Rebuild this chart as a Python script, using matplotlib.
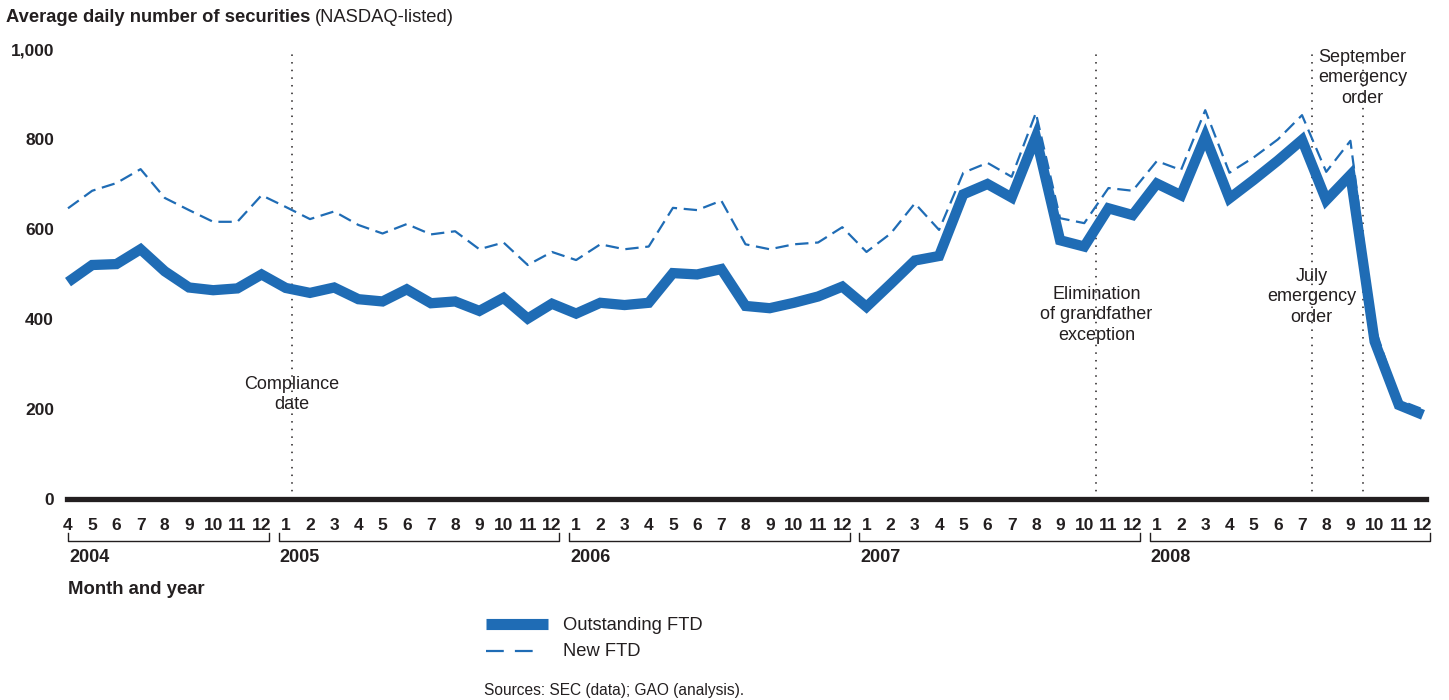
import matplotlib
matplotlib.use("Agg")
import matplotlib.pyplot as plt
from matplotlib.transforms import blended_transform_factory
from matplotlib.lines import Line2D

plt.rcParams["font.family"] = ["Liberation Sans", "DejaVu Sans"]

# months Apr 2004 .. Dec 2008
month_labels = ([str(m) for m in range(4, 13)] + [str(m) for m in range(1, 13)] * 4)
years = ["2004", "2005", "2006", "2007", "2008"]
year_span = [(0, 8), (9, 20), (21, 32), (33, 44), (45, 56)]

outstanding_ftd = [482, 520, 522, 555, 506, 470, 464, 468, 499,
                   469, 458, 470, 444, 439, 466, 435, 439, 418, 447, 401, 434,
                   412, 436, 431, 436, 502, 499, 511, 429, 424, 436, 450, 472,
                   427, 478, 530, 540, 677, 700, 670, 805, 575, 561, 646, 631,
                   701, 675, 805, 668, 709, 752, 798, 664, 720, 350, 209, 187]
new_ftd = [646, 685, 702, 733, 669, 642, 616, 616, 675,
           649, 622, 639, 609, 590, 611, 588, 595, 555, 570, 520, 549,
           531, 566, 555, 561, 647, 642, 663, 566, 555, 566, 570, 604,
           549, 590, 657, 598, 725, 747, 716, 858, 624, 613, 691, 685,
           751, 731, 864, 725, 759, 799, 853, 727, 796, 383, 220, 199]

# events (month index position) and their labels
event_x = [9.26, 42.5, 51.4, 53.5]
event_text = ["Compliance\ndate", "Elimination\nof grandfather\nexception",
              "July\nemergency\norder", "September\nemergency\norder"]
event_text_y = [232, 409, 449, 936]

BLUE = "#1f6cb5"
INK = "#231f20"
W, H = 1449, 700
COND = ["Liberation Sans Narrow", "Liberation Sans"]

fig = plt.figure(figsize=(W / 100, H / 100), dpi=100)
ax = fig.add_axes([68 / W, 1 - 499 / H, (1423 - 68) / W, 450 / H])
x = list(range(len(outstanding_ftd)))

ax.plot(x, new_ftd, color=BLUE, lw=1.6, ls=(0, (6, 3)), clip_on=False, zorder=3)
ax.plot(x, outstanding_ftd, color=BLUE, lw=7.4, solid_joinstyle="miter",
        solid_capstyle="butt", clip_on=False, zorder=4)

for ex, et, ey in zip(event_x, event_text, event_text_y):
    ax.vlines(ex, 0, 1000, color=INK, lw=1.1, ls=(0, (1, 4)), zorder=2)
    ax.text(ex, ey, et, ha="center", va="center", fontsize=13, color=INK,
            linespacing=1.28, zorder=5)

ax.set_xlim(0, 56)
ax.set_ylim(0, 1000)
ax.axhline(0, xmin=-0.001, xmax=1.002, color=INK, lw=3.8, clip_on=False, zorder=6)
for s in ax.spines.values():
    s.set_visible(False)

ax.set_yticks([0, 200, 400, 600, 800, 1000])
ax.set_yticklabels(["0", "200", "400", "600", "800", "1,000"])
ax.set_xticks(x)
ax.set_xticklabels(month_labels)
ax.tick_params(axis="y", length=0, pad=10, labelsize=12.5, labelcolor=INK)
ax.tick_params(axis="x", length=0, pad=14, labelsize=12.5, labelcolor=INK)
for lab in ax.get_xticklabels() + ax.get_yticklabels():
    lab.set_fontweight("bold")
    lab.set_family(COND)

# year brackets
tr = blended_transform_factory(ax.transData, ax.transAxes)
yb, yt = (499 - 541) / 450, (499 - 533) / 450
for yr, (a, b) in zip(years, year_span):
    x0 = a - 0.3 if a > 0 else 0
    x1 = b + 0.3
    ax.plot([x0, x0, x1, x1], [yt, yb, yb, yt], color=INK, lw=1, transform=tr,
            clip_on=False)
    ax.text(x0 + 0.05, (499 - 557) / 450, yr, transform=tr, ha="left", va="center",
            fontsize=13, fontweight="bold", color=INK, family=COND)
ax.text(0, (499 - 590) / 450, "Month and year", transform=tr, ha="left",
        va="center", fontsize=13.3, fontweight="bold", color=INK, family=COND)

# title
t1 = fig.text(6 / W, 1 - 18 / H, "Average daily number of securities", ha="left",
              va="center", fontsize=13.2, fontweight="bold", color=INK)
fig.canvas.draw()
bb = t1.get_window_extent(fig.canvas.get_renderer())
fig.text(bb.x1 / W + 4 / W, 1 - 18 / H, "(NASDAQ-listed)", ha="left", va="center",
         fontsize=13.2, color=INK)

# legend
fig.add_artist(Line2D([486 / W, 548 / W], [1 - 624 / H] * 2, color=BLUE, lw=8,
                      solid_capstyle="butt"))
fig.add_artist(Line2D([486 / W, 541 / W], [1 - 651 / H] * 2, color=BLUE, lw=1.6,
                      ls=(0, (8, 5))))
fig.text(563 / W, 1 - 625 / H, "Outstanding FTD", ha="left", va="center",
         fontsize=13.2, color=INK)
fig.text(563 / W, 1 - 652 / H, "New FTD", ha="left", va="center",
         fontsize=13.2, color=INK)
fig.text(484 / W, 1 - 690 / H, "Sources: SEC (data); GAO (analysis).", ha="left",
         va="center", fontsize=11.2, color=INK)

fig.savefig("out.png", dpi=100)
